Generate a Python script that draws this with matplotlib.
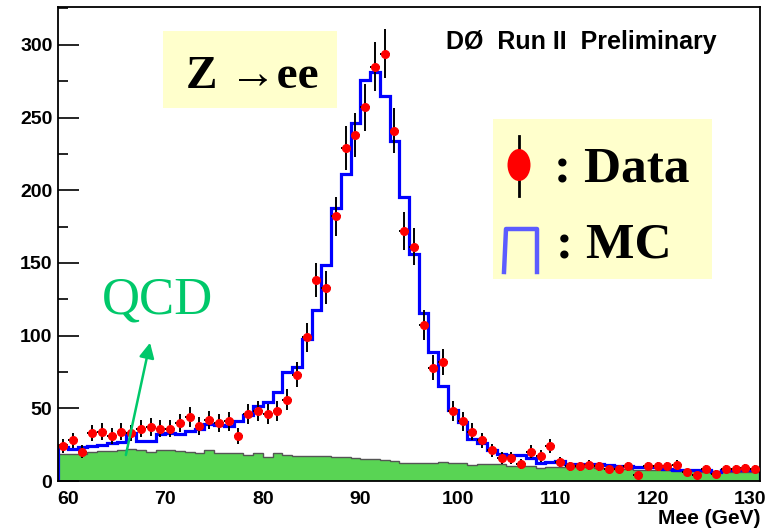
import numpy as np
import matplotlib
matplotlib.use("Agg")
import matplotlib.pyplot as plt
from matplotlib.patches import Rectangle, Ellipse
from matplotlib.lines import Line2D

# ---------------- data ----------------
bin_low = 59
bin_high = 131
data_counts = [24, 28, 20, 33, 34, 31, 34, 33, 36, 37, 36, 36, 40, 44, 38, 42, 40, 41,
               31, 46, 48, 46, 48, 56, 73, 99, 138, 133, 182, 229, 238, 257, 285, 294,
               241, 172, 161, 107, 78, 82, 48, 41, 34, 28, 21, 16, 16, 12, 20, 17, 24,
               13, 10, 10, 11, 10, 8, 8, 10, 4, 10, 10, 10, 11, 6, 4, 8, 5, 8, 8, 9, 8]
mc_counts = [23.3, 22.0, 23.3, 24.4, 25.1, 26.0, 27.1, 32.8, 27.6, 27.6, 32.5, 33.0,
             32.6, 34.2, 35.8, 39.0, 38.6, 37.5, 41.6, 45.3, 51.3, 54.5, 60.9, 74.7,
             78.2, 97.7, 117.5, 148.5, 188, 211, 246, 276, 281, 265, 234, 195, 156,
             115.6, 88.5, 65.5, 48.5, 40.9, 28.7, 26.0, 21.4, 18.6, 17.9, 17.9, 15.6,
             12.4, 13.1, 13.6, 11.9, 11.9, 11.9, 11.5, 11.0, 10.6, 10.6, 9.9, 9.9, 9.9,
             8.3, 7.6, 7.8, 7.8, 7.6, 6.4, 7.6, 7.6, 7.6, 7.4]
qcd_counts = [18.6, 18.6, 18.8, 20.0, 20.3, 20.5, 21.5, 22.0, 21.0, 19.8, 21.6, 21.2,
              20.5, 20.2, 19.6, 21.6, 19.6, 19.5, 19.4, 18.0, 19.5, 16.5, 19.4, 17.8,
              17.0, 17.5, 17.2, 17.0, 16.4, 16.3, 15.8, 15.2, 15.0, 14.2, 14.0, 12.4,
              12.2, 12.2, 12.2, 12.8, 12.6, 12.6, 11.0, 11.7, 11.7, 11.6, 10.6, 10.6,
              10.5, 9.2, 9.6, 9.9, 9.9, 9.5, 9.4, 9.0, 8.5, 8.0, 8.4, 7.8, 7.6, 7.6,
              7.4, 7.0, 6.8, 6.6, 6.4, 6.6, 6.2, 6.0, 6.0, 6.2]
x_ticks = [60, 70, 80, 90, 100, 110, 120, 130]
y_ticks = [0, 50, 100, 150, 200, 250, 300]

edges = np.arange(bin_low, bin_high + 1, 1.0)
centers = 0.5 * (edges[:-1] + edges[1:])
data = np.array(data_counts, dtype=float)

W, H = 774, 532
fig = plt.figure(figsize=(W / 100, H / 100), dpi=100)
ax = fig.add_axes([58 / W, 1 - 481 / H, (760 - 58) / W, (481 - 7) / H])

def fx(px):
    return px / W

def fy(py):
    return 1 - py / H

# QCD fill
ax.stairs(qcd_counts, edges, fill=True, color="#59d454", zorder=1)
ax.stairs(qcd_counts, edges, color="#555555", lw=1.0, zorder=1.5)
# MC
ax.stairs(mc_counts, edges, color="#0000ff", lw=2.3, zorder=2)
# Data
ax.errorbar(centers, data, yerr=np.sqrt(data), xerr=0.5, fmt="o", color="#ff0000",
            ms=5.5, mec="#ff0000", ecolor="black", elinewidth=1.4, capsize=0, zorder=3)

ax.set_xlim(bin_low, bin_high)
ax.set_ylim(0, 326)
ax.set_xticks(x_ticks)
ax.set_yticks(y_ticks)
ax.set_yticks(np.arange(25, 326, 50), minor=True)
tick_font = dict(family="Liberation Sans", weight="bold", size=14)
ax.set_xticklabels([str(t) for t in x_ticks], fontdict=tick_font)
ax.set_yticklabels([str(t) for t in y_ticks], fontdict=tick_font)
ax.tick_params(axis="y", which="major", direction="in", length=15, width=1.2, pad=4)
ax.tick_params(axis="y", which="minor", direction="in", length=7.5, width=1.2)
ax.tick_params(axis="x", which="both", length=0, pad=7)
for s in ax.spines.values():
    s.set_linewidth(1.3)

fig.text(fx(760), fy(519), "Mee (GeV)", ha="right", va="center",
         family="Liberation Sans", weight="bold", size=15)
fig.text(fx(446), fy(42), "DØ  Run II  Preliminary", ha="left", va="center",
         family="Liberation Sans", weight="bold", size=18)

# Z -> ee box
fig.patches.append(Rectangle((fx(163), fy(108)), (337 - 163) / W, (108 - 31) / H,
                             transform=fig.transFigure, facecolor="#ffffcc",
                             edgecolor="none", zorder=5))
fig.text(fx(252), fy(88), "Z \u2192ee", ha="center", va="baseline",
         family=["Liberation Serif", "DejaVu Serif"], weight="bold", size=34, zorder=6)

# legend box
fig.patches.append(Rectangle((fx(493), fy(279)), (712 - 493) / W, (279 - 119) / H,
                             transform=fig.transFigure, facecolor="#ffffcc",
                             edgecolor="none", zorder=5))
fig.lines.append(Line2D([fx(519), fx(519)], [fy(136), fy(196)], transform=fig.transFigure,
                        color="black", lw=2, zorder=6))
fig.patches.append(Ellipse((fx(519), fy(165)), 23 / W, 32 / H, transform=fig.transFigure,
                           facecolor="#ff0000", edgecolor="none", zorder=7))
fig.text(fx(554), fy(181), ": Data", ha="left", va="baseline",
         family=["Liberation Serif", "DejaVu Serif"], weight="bold", size=37, zorder=8)
fig.lines.append(Line2D([fx(504), fx(506), fx(537), fx(537)],
                        [fy(272), fy(229), fy(229), fy(272)], transform=fig.transFigure,
                        color="#5c5cff", lw=3.2, zorder=6))
fig.text(fx(556), fy(258), ": MC", ha="left", va="baseline",
         family=["Liberation Serif", "DejaVu Serif"], weight="bold", size=37, zorder=8)

# QCD label and arrow
ax.text(69.2, 124, "QCD", ha="center", va="center", color="#00c86a",
        family=["Liberation Serif", "DejaVu Serif"], size=38, zorder=8)
ax.annotate("", xy=(68.5, 97), xytext=(65.9, 16),
            arrowprops=dict(arrowstyle="-|>,head_length=0.9,head_width=0.45",
                            color="#00c86a", lw=1.8), zorder=8)

fig.savefig("out.png", dpi=100)
